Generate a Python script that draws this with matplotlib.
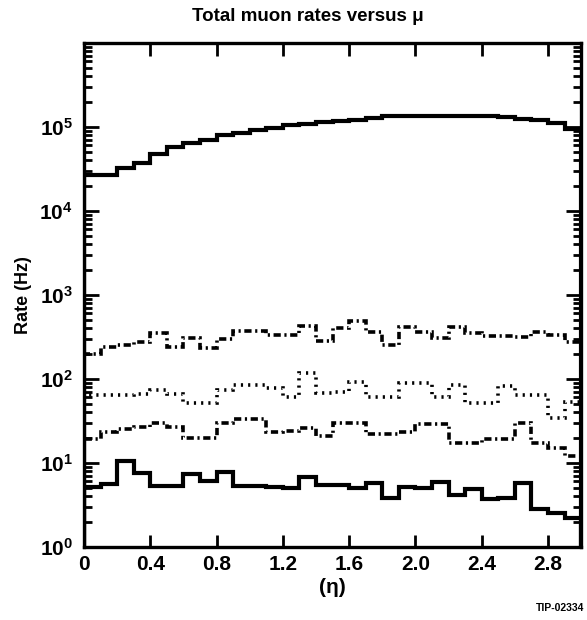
import numpy as np
import matplotlib
matplotlib.use("Agg")
import matplotlib.pyplot as plt
from matplotlib.ticker import LogLocator, FuncFormatter, FixedLocator, NullFormatter

plt.rcParams['font.family'] = ['Liberation Sans', 'DejaVu Sans']
plt.rcParams['font.weight'] = 'bold'
plt.rcParams['mathtext.fontset'] = 'custom'
plt.rcParams['mathtext.bf'] = 'Liberation Sans:bold'
plt.rcParams['mathtext.rm'] = 'Liberation Sans:bold'

# bin edges in eta (0.1 wide)
eta_edges = np.linspace(0.0, 3.0, 31)
eta_ticks = [0, 0.4, 0.8, 1.2, 1.6, 2.0, 2.4, 2.8]
eta_labels = ['0', '0.4', '0.8', '1.2', '1.6', '2.0', '2.4', '2.8']
rate_ticks = [1e0, 1e1, 1e2, 1e3, 1e4, 1e5]

# total rate
rate_total = [2.7e4, 2.7e4, 3.2e4, 3.7e4, 4.8e4, 5.8e4, 6.5e4, 7.0e4, 8.0e4, 8.5e4,
              9.2e4, 9.8e4, 1.04e5, 1.09e5, 1.13e5, 1.18e5, 1.22e5, 1.28e5, 1.34e5, 1.36e5,
              1.36e5, 1.36e5, 1.36e5, 1.36e5, 1.35e5, 1.30e5, 1.25e5, 1.20e5, 1.10e5, 9.5e4]
# dash-dot, upper
rate_upper = [200, 240, 250, 275, 350, 240, 305, 235, 300, 370,
              370, 335, 335, 430, 280, 400, 490, 360, 250, 415,
              360, 305, 410, 350, 325, 325, 315, 360, 335, 275]
# dotted
rate_dotted = [64, 64, 64, 66, 74, 66, 52, 52, 74, 85,
               85, 78, 61, 117, 68, 70, 92, 61, 61, 90,
               90, 61, 85, 52, 52, 82, 64, 64, 34, 53]
# dash-dot, lower
rate_lower = [19, 23, 25, 27, 30, 27, 20, 20, 30, 33,
              33, 23, 24, 26, 21, 30, 30, 22, 22, 23,
              29, 29, 17, 17, 19, 19, 30, 17, 15, 12]
# bottom solid
rate_bottom = [5.2, 5.6, 10.5, 7.6, 5.3, 5.3, 7.4, 6.1, 7.8, 5.3,
               5.3, 5.2, 5.0, 6.8, 5.4, 5.4, 5.0, 5.8, 3.8, 5.2,
               5.0, 5.9, 4.1, 4.9, 3.7, 3.8, 5.8, 2.8, 2.5, 2.2]

fig = plt.figure(figsize=(5.87, 6.2), dpi=100)
ax = fig.add_axes([0.143, 0.118, 0.847, 0.813])

dashdot = (0, (2.0, 1.0, 0.6, 1.0))
ax.stairs(rate_total, eta_edges, color='black', linewidth=3.0)
ax.stairs(rate_upper, eta_edges, color='black', linewidth=2.6, linestyle=dashdot)
ax.stairs(rate_dotted, eta_edges, color='black', linewidth=2.6, linestyle=(0, (0.6, 1.4)))
ax.stairs(rate_lower, eta_edges, color='black', linewidth=2.6, linestyle=dashdot)
ax.stairs(rate_bottom, eta_edges, color='black', linewidth=3.0)

ax.set_yscale('log')
ax.set_xlim(0, 3.0)
ax.set_ylim(1, 1e6)

ax.xaxis.set_major_locator(FixedLocator(eta_ticks))
ax.set_xticklabels(eta_labels)
ax.yaxis.set_major_locator(FixedLocator(rate_ticks))
ax.yaxis.set_minor_locator(LogLocator(base=10, subs=np.arange(2, 10), numticks=20))
ax.yaxis.set_minor_formatter(NullFormatter())
ax.yaxis.set_major_formatter(FuncFormatter(
    lambda v, p: r'$\mathbf{10^{%d}}$' % int(round(np.log10(v)))))

ax.tick_params(axis='both', which='both', direction='in', top=True, right=True, width=2.0)
ax.tick_params(axis='y', which='major', length=11, labelsize=15, pad=8)
ax.tick_params(axis='y', which='minor', length=6)
ax.tick_params(axis='x', which='major', length=9, labelsize=15, pad=6)
for s in ax.spines.values():
    s.set_linewidth(2.4)

ax.set_title('Total muon rates versus μ', fontsize=13.5, fontweight='bold', x=0.45, pad=16)
ax.set_ylabel('Rate (Hz)', fontsize=13, fontweight='bold')
ax.yaxis.set_label_coords(-0.104, 0.5)
ax.set_xlabel('(η)', fontsize=15, fontweight='bold', labelpad=3)
fig.text(0.995, 0.012, 'TIP-02334', fontsize=7.5, fontweight='bold', ha='right', va='bottom')

fig.savefig('out.png', dpi=100)
